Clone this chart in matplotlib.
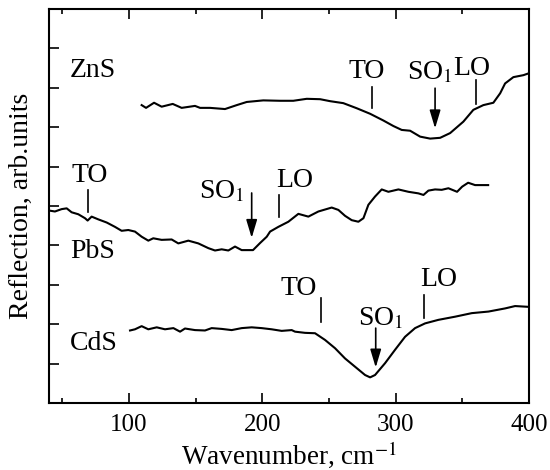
import numpy as np
import matplotlib
matplotlib.use('Agg')
import matplotlib.pyplot as plt
from matplotlib.ticker import MultipleLocator

plt.rcParams['font.family'] = ['Liberation Serif', 'DejaVu Serif']
plt.rcParams['mathtext.fontset'] = 'stix'

# Спектры отражения (волновое число, см^-1 / отражение, отн. ед.)
zns_x = [109.5, 112.8, 118.8, 124.5, 132.8, 139.5, 149.5, 153.3, 160.8, 172.0,
         180.8, 188.3, 200.7, 213.3, 223.2, 233.3, 243.3, 250.8, 260.7, 270.8,
         280.8, 290.7, 298.2, 304.5, 310.8, 318.3, 325.8, 333.3, 340.8, 350.7,
         358.2, 365.7, 373.2, 378.3, 382.0, 388.2, 395.7, 400.0]
zns_y = [7.56, 7.49, 7.62, 7.52, 7.59, 7.49, 7.54, 7.49, 7.49, 7.46,
         7.56, 7.64, 7.68, 7.67, 7.67, 7.72, 7.71, 7.66, 7.61, 7.48,
         7.34, 7.17, 7.03, 6.93, 6.91, 6.76, 6.71, 6.73, 6.85, 7.14,
         7.44, 7.56, 7.62, 7.86, 8.11, 8.27, 8.32, 8.37]

pbs_x = [40.8, 44.5, 49.5, 53.3, 57.0, 62.0, 67.0, 69.0, 72.0, 77.0,
         83.3, 89.5, 94.5, 99.5, 104.5, 109.5, 114.5, 118.2, 124.5, 132.0,
         137.0, 144.5, 152.0, 159.5, 164.5, 169.5, 174.5, 179.5, 184.5, 193.0,
         198.3, 203.3, 205.8, 212.0, 219.5, 227.0, 234.5, 242.0, 252.0, 257.0,
         262.0, 267.0, 272.0, 275.8, 279.5, 284.5, 289.5, 294.5, 302.0, 309.5,
         317.0, 320.8, 324.5, 329.5, 334.5, 339.5, 346.0, 349.8, 354.3, 359.5,
         369.3]
pbs_y = [4.88, 4.86, 4.92, 4.94, 4.84, 4.79, 4.69, 4.63, 4.73, 4.66,
         4.58, 4.47, 4.37, 4.39, 4.35, 4.22, 4.12, 4.18, 4.14, 4.15,
         4.05, 4.12, 4.05, 3.93, 3.87, 3.90, 3.87, 3.97, 3.88, 3.88,
         4.06, 4.22, 4.35, 4.47, 4.60, 4.80, 4.73, 4.86, 4.96, 4.90,
         4.75, 4.64, 4.60, 4.69, 5.03, 5.24, 5.42, 5.36, 5.42, 5.36,
         5.32, 5.28, 5.39, 5.42, 5.41, 5.45, 5.36, 5.49, 5.59, 5.53,
         5.53]

cds_x = [100.8, 104.5, 109.5, 114.5, 120.8, 127.0, 133.3, 138.3, 142.0, 149.5,
         157.0, 162.0, 169.5, 177.0, 184.5, 192.0, 199.5, 207.0, 214.5, 222.0,
         224.5, 232.0, 239.5, 247.0, 254.5, 262.0, 269.5, 277.0, 280.8, 284.5,
         292.0, 299.5, 307.0, 314.5, 322.0, 332.0, 344.5, 357.0, 369.5, 382.0,
         389.5, 399.5]
cds_y = [1.84, 1.87, 1.95, 1.87, 1.92, 1.87, 1.90, 1.81, 1.89, 1.85,
         1.84, 1.90, 1.88, 1.85, 1.90, 1.92, 1.90, 1.87, 1.83, 1.85,
         1.81, 1.78, 1.77, 1.60, 1.39, 1.13, 0.92, 0.71, 0.65, 0.71,
         1.01, 1.35, 1.68, 1.90, 2.02, 2.11, 2.19, 2.28, 2.32, 2.40,
         2.46, 2.44]

# Подписи образцов
sample_names = ['ZnS', 'PbS', 'CdS']
sample_pos = [(55.8, 8.27), (55.8, 3.68), (55.8, 1.35)]

# Метки мод: текст, положение текста, штрих (x, y0, y1)
tick_labels = ['TO', 'LO', 'TO', 'LO', 'TO', 'LO']
tick_text_pos = [(278.0, 8.24), (356.9, 8.32), (70.8, 5.61),
                 (224.5, 5.49), (227.1, 2.74), (332.1, 2.98)]
tick_bars = [(282.0, 7.48, 8.03), (360.0, 7.60, 8.20), (69.3, 4.85, 5.41),
             (212.5, 4.72, 5.28), (243.8, 2.06, 2.66), (321.3, 2.16, 2.74)]

# SO1: положение текста и стрелки (x, хвост, острие)
so_text_pos = [(325.8, 8.20), (169.4, 5.20), (288.6, 1.98)]
so_arrows = [(329.5, 7.99, 6.97), (192.0, 5.33, 4.19), (285.0, 1.90, 0.90)]

fig = plt.figure(figsize=(5.5, 4.7), dpi=100)
ax = fig.add_axes([0.089, 0.1426, 0.873, 0.8383])

for xs, ys in [(zns_x, zns_y), (pbs_x, pbs_y), (cds_x, cds_y)]:
    ax.plot(xs, ys, color='k', lw=1.5)

for name, (x, y) in zip(sample_names, sample_pos):
    ax.text(x, y, name, fontsize=20, ha='left', va='baseline')

for lab, (tx, ty), (bx, b0, b1) in zip(tick_labels, tick_text_pos, tick_bars):
    ax.text(tx, ty, lab, fontsize=20, ha='center', va='baseline')
    ax.plot([bx, bx], [b0, b1], color='k', lw=1.2)

for (tx, ty), (axx, a0, a1) in zip(so_text_pos, so_arrows):
    ax.text(tx, ty, 'SO$_1$', fontsize=20, ha='center', va='baseline')
    ax.annotate('', xy=(axx, a1), xytext=(axx, a0),
                arrowprops=dict(arrowstyle='-|>,head_length=1.1,head_width=0.33',
                                color='k', lw=1.2, shrinkA=0, shrinkB=0))

ax.set_xlim(40, 400)
ax.set_ylim(0, 10)
ax.xaxis.set_major_locator(MultipleLocator(100))
ax.xaxis.set_minor_locator(MultipleLocator(50))
ax.set_yticks(np.arange(1, 10))
ax.set_yticklabels([])
ax.tick_params(axis='x', which='major', direction='in', length=7, width=1.2,
               top=True, labelsize=18, pad=8)
ax.tick_params(axis='x', which='minor', direction='in', length=3.5, width=1.2,
               top=True)
ax.tick_params(axis='y', which='major', direction='in', length=7, width=1.2,
               right=False)
for s in ax.spines.values():
    s.set_linewidth(1.5)

ax.set_xlabel('Wavenumber, cm$^{-1}$', fontsize=19.5, labelpad=2)
ax.set_ylabel('Reflection, arb.units', fontsize=20, labelpad=7)

plt.savefig('out.png', dpi=100)
plt.close()
